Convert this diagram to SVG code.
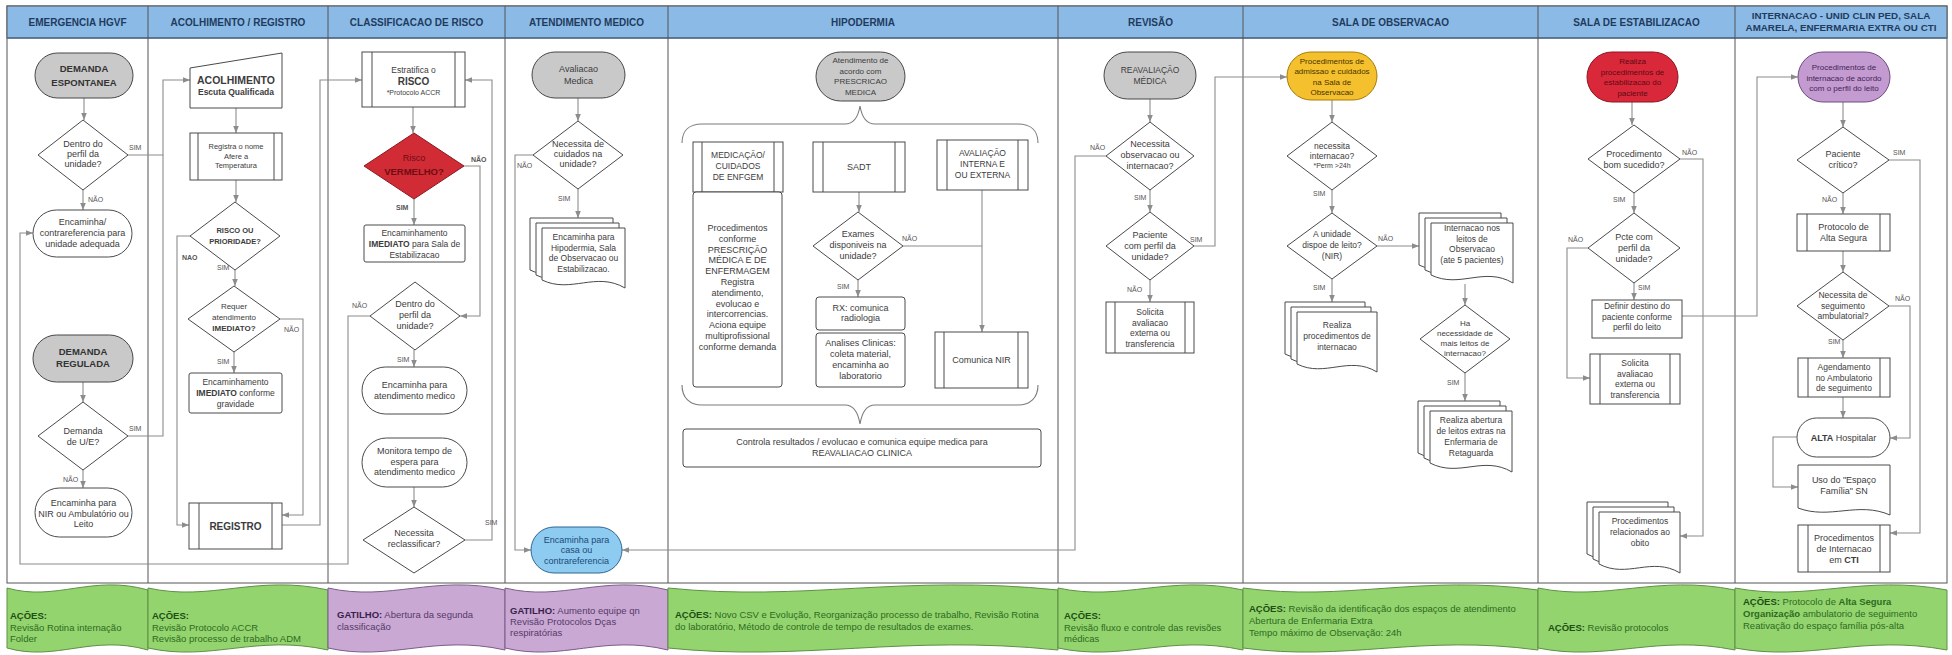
<svg xmlns="http://www.w3.org/2000/svg" width="1952" height="655" viewBox="0 0 1952 655">
<defs>
<style>
text{font-family:"Liberation Sans",Arial,Helvetica,sans-serif}
.t{font-size:9px;fill:#3c3c3c;text-anchor:middle}
.ts{font-size:8px;fill:#3c3c3c;text-anchor:middle}
.tx{font-size:7.5px;fill:#3c3c3c;text-anchor:middle}
.b{font-weight:bold}
.ht{font-size:10px;font-weight:bold;fill:#1f3b5e;text-anchor:middle}
.lbl{font-size:7px;fill:#555}
.box{fill:#fff;stroke:#4a4a4a;stroke-width:1}
.gray{fill:#c9c9c9;stroke:#474747;stroke-width:1}
.bar{stroke:#4a4a4a;stroke-width:1}
.cn{fill:none;stroke:#8c8c8c;stroke-width:1.1;marker-end:url(#ah)}
.cn0{fill:none;stroke:#8c8c8c;stroke-width:1.1}
.brace{fill:none;stroke:#7a7a7a;stroke-width:1.1}
.gb{fill:#93d46e;stroke:#5f8f45;stroke-width:1}
.pb{fill:#c9a8d4;stroke:#7b5d88;stroke-width:1}
.gt{font-size:9.5px;fill:#2f6a1e}
.gtb{font-weight:bold;fill:#1d4e12}
.pt{font-size:9.5px;fill:#563a68}
.ptb{font-weight:bold;fill:#3a1f4d}
.lane{stroke:#555;stroke-width:1}
</style>
<marker id="ah" viewBox="0 0 10 10" refX="10" refY="5" markerWidth="7" markerHeight="7" markerUnits="userSpaceOnUse" orient="auto"><path d="M0,1 L10,5 L0,9 z" fill="#8c8c8c"/></marker>
</defs>
<rect x="0" y="0" width="1952" height="655" fill="#fff"/>

<g id="lanes">
<rect x="7" y="6" width="1940" height="577" fill="#fff" stroke="#555"/>
<rect x="7" y="6" width="1940" height="32" fill="#8bbae6" stroke="#555"/>
<line x1="7" y1="38" x2="1947" y2="38" stroke="#4f6f8f" stroke-width="1.5"/>
<line class="lane" x1="148" y1="6" x2="148" y2="583"/>
<line class="lane" x1="328" y1="6" x2="328" y2="583"/>
<line class="lane" x1="505" y1="6" x2="505" y2="583"/>
<line class="lane" x1="668" y1="6" x2="668" y2="583"/>
<line class="lane" x1="1058" y1="6" x2="1058" y2="583"/>
<line class="lane" x1="1243" y1="6" x2="1243" y2="583"/>
<line class="lane" x1="1538" y1="6" x2="1538" y2="583"/>
<line class="lane" x1="1735" y1="6" x2="1735" y2="583"/>
<text class="ht" x="77.5" y="25.5">EMERGENCIA HGVF</text>
<text class="ht" x="238" y="25.5">ACOLHIMENTO / REGISTRO</text>
<text class="ht" x="416.5" y="25.5">CLASSIFICACAO DE RISCO</text>
<text class="ht" x="586.5" y="25.5">ATENDIMENTO MEDICO</text>
<text class="ht" x="863" y="25.5">HIPODERMIA</text>
<text class="ht" x="1150.5" y="25.5">REVISÃO</text>
<text class="ht" x="1390.5" y="25.5">SALA DE OBSERVACAO</text>
<text class="ht" x="1636.5" y="25.5">SALA DE ESTABILIZACAO</text>
<text class="ht" style="font-size:9.8px"><tspan x="1841" y="19">INTERNACAO - UNID CLIN PED, SALA</tspan><tspan x="1841" y="31">AMARELA, ENFERMARIA EXTRA OU CTI</tspan></text>
</g>

<g id="connectors">
<path class="cn" d="M84,98 V120"/>
<path class="cn" d="M128,155 H163 V80 H190"/>
<path class="cn" d="M83,190 V210"/>
<path class="cn" d="M370,316 H348 V564 H20 V233 H33"/>
<path class="cn" d="M83,382 V402"/>
<path class="cn0" d="M128,436 H163 V155"/>
<path class="cn" d="M83,470 V488"/>
<path class="cn" d="M236,108 V133"/>
<path class="cn" d="M236,180 V202"/>
<path class="cn" d="M190,236 H177 V525 H189"/>
<path class="cn" d="M235,270 V286"/>
<path class="cn" d="M280,319 H303 V515 H282"/>
<path class="cn" d="M234,352 V373"/>
<path class="cn" d="M282,525 H320 V80 H362"/>
<path class="cn" d="M413,107 V133"/>
<path class="cn" d="M464,166 H480 V316 H460"/>
<path class="cn" d="M414,199 V225"/>
<path class="cn" d="M414,350 V367"/>
<path class="cn" d="M414,487 V507"/>
<path class="cn" d="M465,540 H492 V80 H465"/>
<path class="cn" d="M578,98 V121"/>
<path class="cn" d="M533,155 H515 V550 H531"/>
<path class="cn" d="M578,189 V218"/>
<path class="cn" d="M1106,156 H1075 V550 H622"/>
<path class="cn" d="M859,192 V212"/>
<path class="cn0" d="M903,246 H982"/>
<path class="cn" d="M982,190 V332"/>
<path class="cn" d="M858,280 V297"/>
<path class="cn" d="M1150,99 V122"/>
<path class="cn" d="M1150,190 V212"/>
<path class="cn" d="M1194,246 H1215 V77 H1287"/>
<path class="cn" d="M1150,280 V302"/>
<path class="cn" d="M1332,100 V122"/>
<path class="cn" d="M1332,190 V213"/>
<path class="cn" d="M1377,246 H1419"/>
<path class="cn" d="M1332,279 V302"/>
<path class="cn" d="M1465,284 V305"/>
<path class="cn" d="M1465,373 V401"/>
<path class="cn" d="M1632,102 V125"/>
<path class="cn" d="M1680,159 H1703 V536 H1680"/>
<path class="cn" d="M1634,193 V213"/>
<path class="cn" d="M1588,248 H1567 V378 H1590"/>
<path class="cn" d="M1634,283 V300"/>
<path class="cn" d="M1682,316 H1757 V77 H1798"/>
<path class="cn" d="M1843,102 V127"/>
<path class="cn" d="M1889,160 H1920 V533 H1890"/>
<path class="cn" d="M1843,193 V214"/>
<path class="cn" d="M1843,251 V272"/>
<path class="cn" d="M1889,306 H1910 V438 H1890"/>
<path class="cn" d="M1843,340 V358"/>
<path class="cn" d="M1843,397 V418"/>
<path class="cn" d="M1797,437 H1773 V487 H1798"/>
<path class="brace" d="M682,143 C682,130 690,124 702,124 L845,124 C853,124 858,118 860,106 C862,118 867,124 875,124 L1018,124 C1030,124 1038,130 1038,143"/>
<path class="brace" d="M682,385 C682,398 690,405 702,405 L845,405 C853,405 858,412 860,424 C862,412 867,405 875,405 L1018,405 C1030,405 1038,398 1038,385"/>
<text class="lbl" x="129" y="150">SIM</text>
<text class="lbl" x="88" y="202">NÃO</text>
<text class="lbl" x="129" y="431">SIM</text>
<text class="lbl" x="63" y="482">NÃO</text>
<text class="lbl b" x="182" y="260">NAO</text>
<text class="lbl" x="217" y="270">SIM</text>
<text class="lbl" x="284" y="332">NÃO</text>
<text class="lbl" x="217" y="364">SIM</text>
<text class="lbl b" x="471" y="162">NÃO</text>
<text class="lbl b" x="396" y="210">SIM</text>
<text class="lbl" x="352" y="308">NÃO</text>
<text class="lbl" x="397" y="362">SIM</text>
<text class="lbl" x="485" y="525">SIM</text>
<text class="lbl" x="517" y="168">NÃO</text>
<text class="lbl" x="558" y="201">SIM</text>
<text class="lbl" x="902" y="241">NÃO</text>
<text class="lbl" x="837" y="289">SIM</text>
<text class="lbl" x="1090" y="150">NÃO</text>
<text class="lbl" x="1134" y="200">SIM</text>
<text class="lbl" x="1190" y="242">SIM</text>
<text class="lbl" x="1127" y="292">NÃO</text>
<text class="lbl" x="1313" y="196">SIM</text>
<text class="lbl" x="1378" y="241">NÃO</text>
<text class="lbl" x="1313" y="290">SIM</text>
<text class="lbl" x="1447" y="385">SIM</text>
<text class="lbl" x="1682" y="155">NÃO</text>
<text class="lbl" x="1613" y="202">SIM</text>
<text class="lbl" x="1568" y="242">NÃO</text>
<text class="lbl" x="1638" y="290">SIM</text>
<text class="lbl" x="1893" y="155">SIM</text>
<text class="lbl" x="1822" y="202">NÃO</text>
<text class="lbl" x="1895" y="301">NÃO</text>
<text class="lbl" x="1828" y="344">SIM</text>
</g>

<!-- Lane 1 -->
<g id="n_demanda_espontanea"><rect class="gray" x="35" y="53" width="98" height="45" rx="22.5"/><text class="t b" style="font-size:9.5px;fill:#333"><tspan x="84" y="72">DEMANDA</tspan><tspan x="84" y="85.5">ESPONTANEA</tspan></text></g>
<g id="n_dentro_perfil_1"><polygon class="box" points="83,120 128,155 83,190 38,155"/><text class="t"><tspan x="83" y="147">Dentro do</tspan><tspan x="83" y="157">perfil da</tspan><tspan x="83" y="167">unidade?</tspan></text></g>
<g id="n_encaminha_contraref"><rect class="box" x="33" y="210" width="99" height="47" rx="23.5"/><text class="t"><tspan x="82.5" y="225">Encaminha/</tspan><tspan x="82.5" y="236">contrareferencia para</tspan><tspan x="82.5" y="247">unidade adequada</tspan></text></g>
<g id="n_demanda_regulada"><rect class="gray" x="33" y="335" width="100" height="47" rx="23.5"/><text class="t b" style="font-size:9.5px;fill:#333"><tspan x="83" y="354.5">DEMANDA</tspan><tspan x="83" y="367">REGULADA</tspan></text></g>
<g id="n_demanda_ue"><polygon class="box" points="83,402 128,436 83,470 38,436"/><text class="t"><tspan x="83" y="434">Demanda</tspan><tspan x="83" y="445">de U/E?</tspan></text></g>
<g id="n_encaminha_nir"><rect class="box" x="35" y="488" width="97" height="49" rx="24.5"/><text class="t"><tspan x="83.5" y="506">Encaminha para</tspan><tspan x="83.5" y="516.5">NIR ou Ambulatório ou</tspan><tspan x="83.5" y="527">Leito</tspan></text></g>

<!-- Lane 2 -->
<g id="n_acolhimento"><path class="box" d="M190,68 L282,53 L282,108 L190,108 Z"/><text class="t"><tspan x="236" y="83.5" class="b" style="font-size:10.5px">ACOLHIMENTO</tspan><tspan x="236" y="94.5" class="b" style="font-size:8.5px">Escuta Qualificada</tspan></text></g>
<g id="n_registra"><rect class="box" x="190" y="133" width="92" height="47"/><line class="bar" x1="198" y1="133" x2="198" y2="180"/><line class="bar" x1="274" y1="133" x2="274" y2="180"/><text class="tx"><tspan x="236" y="149">Registra o nome</tspan><tspan x="236" y="158.5">Afere a</tspan><tspan x="236" y="168">Temperatura</tspan></text></g>
<g id="n_risco_prioridade"><polygon class="box" points="235,202 280,236 235,270 190,236"/><text class="tx b"><tspan x="235" y="233">RISCO OU</tspan><tspan x="235" y="244">PRIORIDADE?</tspan></text></g>
<g id="n_requer_imediato"><polygon class="box" points="234,286 280,319 234,352 188,319"/><text class="ts"><tspan x="234" y="309">Requer</tspan><tspan x="234" y="319.5">atendimento</tspan><tspan x="234" y="330.5" class="b">IMEDIATO?</tspan></text></g>
<g id="n_enc_imediato"><rect class="box" x="189" y="373" width="93" height="40" rx="2"/><text class="t" style="font-size:8.5px"><tspan x="235.5" y="385">Encaminhamento</tspan><tspan x="235.5" y="396"><tspan class="b">IMEDIATO</tspan> conforme</tspan><tspan x="235.5" y="407">gravidade</tspan></text></g>
<g id="n_registro"><rect class="box" x="189" y="503" width="93" height="46"/><line class="bar" x1="199" y1="503" x2="199" y2="549"/><line class="bar" x1="272" y1="503" x2="272" y2="549"/><text class="t b" x="235.5" y="529.5" style="font-size:10px">REGISTRO</text></g>

<!-- Lane 3 -->
<g id="n_estratifica"><rect class="box" x="362" y="52" width="103" height="55"/><line class="bar" x1="372" y1="52" x2="372" y2="107"/><line class="bar" x1="455" y1="52" x2="455" y2="107"/><text class="t"><tspan x="413.5" y="73" style="font-size:8.5px">Estratifica o</tspan><tspan x="413.5" y="85" class="b" style="font-size:10px">RISCO</tspan><tspan x="413.5" y="94.5" style="font-size:7px">*Protocolo ACCR</tspan></text></g>
<g id="n_risco_vermelho"><polygon points="414,133 464,166 414,199 364,166" fill="#d12b36" stroke="#8a1a20"/><text class="t" style="fill:#6e0d12"><tspan x="414" y="161">Risco</tspan><tspan x="414" y="175" class="b" style="font-size:9.5px">VERMELHO?</tspan></text></g>
<g id="n_enc_estab"><rect class="box" x="364" y="225" width="101" height="37" rx="2"/><text class="t" style="font-size:8.5px"><tspan x="414.5" y="236">Encaminhamento</tspan><tspan x="414.5" y="247"><tspan class="b">IMEDIATO</tspan> para Sala de</tspan><tspan x="414.5" y="258">Estabilizacao</tspan></text></g>
<g id="n_dentro_perfil_2"><polygon class="box" points="415,282 460,316 415,350 370,316"/><text class="t"><tspan x="415" y="307">Dentro do</tspan><tspan x="415" y="318">perfil da</tspan><tspan x="415" y="329">unidade?</tspan></text></g>
<g id="n_enc_atendimento"><rect class="box" x="362" y="367" width="105" height="47" rx="23.5"/><text class="t"><tspan x="414.5" y="388">Encaminha para</tspan><tspan x="414.5" y="399">atendimento medico</tspan></text></g>
<g id="n_monitora"><rect class="box" x="362" y="438" width="105" height="49" rx="24.5"/><text class="t"><tspan x="414.5" y="454">Monitora tempo de</tspan><tspan x="414.5" y="464.5">espera para</tspan><tspan x="414.5" y="475">atendimento medico</tspan></text></g>
<g id="n_reclassificar"><polygon class="box" points="414,507 465,540 414,573 363,540"/><text class="t"><tspan x="414" y="536">Necessita</tspan><tspan x="414" y="547">reclassificar?</tspan></text></g>

<!-- Lane 4 -->
<g id="n_avaliacao_medica"><rect class="gray" x="532" y="52" width="93" height="46" rx="23"/><text class="t"><tspan x="578.5" y="71.5">Avaliacao</tspan><tspan x="578.5" y="83.5">Medica</tspan></text></g>
<g id="n_necessita_cuidados"><polygon class="box" points="578,121 623,155 578,189 533,155"/><text class="t"><tspan x="578" y="147">Necessita de</tspan><tspan x="578" y="157">cuidados na</tspan><tspan x="578" y="167">unidade?</tspan></text></g>
<g id="n_enc_hipodermia"><path class="box" d="M530,218 H613 V278 C584,261 559,284 530,270 Z"/><path class="box" d="M536,223 H619 V283 C590,266 565,289 536,275 Z"/><path class="box" d="M542,228 H625 V288 C596,271 571,294 542,280 Z"/><text class="t" style="font-size:8.5px"><tspan x="583.5" y="240">Encaminha para</tspan><tspan x="583.5" y="250.5">Hipodermia, Sala</tspan><tspan x="583.5" y="261">de Observacao ou</tspan><tspan x="583.5" y="271.5">Estabilizacao.</tspan></text></g>
<g id="n_enc_casa"><rect x="531" y="527" width="91" height="46" rx="23" fill="#8ecbf0" stroke="#2f6790"/><text class="t" style="fill:#1a4a78"><tspan x="576.5" y="543">Encaminha para</tspan><tspan x="576.5" y="553">casa ou</tspan><tspan x="576.5" y="563.5">contrareferencia</tspan></text></g>

<!-- Lane 5 -->
<g id="n_atend_prescricao"><rect class="gray" x="816" y="52" width="89" height="49" rx="24.5"/><text class="ts"><tspan x="860.5" y="63">Atendimento de</tspan><tspan x="860.5" y="73.5">acordo com</tspan><tspan x="860.5" y="84">PRESCRICAO</tspan><tspan x="860.5" y="94.5">MEDICA</tspan></text></g>
<g id="n_medicacao"><rect class="box" x="693" y="142" width="90" height="50"/><line class="bar" x1="702" y1="142" x2="702" y2="192"/><line class="bar" x1="774" y1="142" x2="774" y2="192"/><text class="t" style="font-size:8.5px"><tspan x="738" y="158">MEDICAÇÃO/</tspan><tspan x="738" y="169">CUIDADOS</tspan><tspan x="738" y="179.5">DE ENFGEM</tspan></text></g>
<g id="n_procedimentos_conforme"><rect class="box" x="693" y="192" width="89" height="195" rx="3"/><text class="t"><tspan x="737.5" y="231">Procedimentos</tspan><tspan x="737.5" y="241.8">conforme</tspan><tspan x="737.5" y="252.6">PRESCRIÇÃO</tspan><tspan x="737.5" y="263.4">MÉDICA E DE</tspan><tspan x="737.5" y="274.2">ENFERMAGEM</tspan><tspan x="737.5" y="285">Registra</tspan><tspan x="737.5" y="295.8">atendimento,</tspan><tspan x="737.5" y="306.6">evolucao e</tspan><tspan x="737.5" y="317.4">intercorrencias.</tspan><tspan x="737.5" y="328.2">Aciona equipe</tspan><tspan x="737.5" y="339">multiprofissional</tspan><tspan x="737.5" y="349.8">conforme demanda</tspan></text></g>
<g id="n_sadt"><rect class="box" x="813" y="142" width="92" height="50"/><line class="bar" x1="823" y1="142" x2="823" y2="192"/><line class="bar" x1="895" y1="142" x2="895" y2="192"/><text class="t" x="859" y="170">SADT</text></g>
<g id="n_exames"><polygon class="box" points="858,212 903,246 858,280 813,246"/><text class="t"><tspan x="858" y="237">Exames</tspan><tspan x="858" y="248">disponiveis na</tspan><tspan x="858" y="258.5">unidade?</tspan></text></g>
<g id="n_rx"><rect class="box" x="816" y="297" width="89" height="33" rx="3"/><text class="t"><tspan x="860.5" y="310.5">RX: comunica</tspan><tspan x="860.5" y="321">radiologia</tspan></text></g>
<g id="n_analises"><rect class="box" x="816" y="333" width="89" height="54" rx="3"/><text class="t"><tspan x="860.5" y="346">Analises Clinicas:</tspan><tspan x="860.5" y="357">coleta material,</tspan><tspan x="860.5" y="368">encaminha ao</tspan><tspan x="860.5" y="378.5">laboratorio</tspan></text></g>
<g id="n_avaliacao_interna"><rect class="box" x="937" y="140" width="91" height="50"/><line class="bar" x1="947" y1="140" x2="947" y2="190"/><line class="bar" x1="1018" y1="140" x2="1018" y2="190"/><text class="t" style="font-size:8.5px"><tspan x="982.5" y="156">AVALIAÇÃO</tspan><tspan x="982.5" y="167">INTERNA E</tspan><tspan x="982.5" y="178">OU EXTERNA</tspan></text></g>
<g id="n_comunica_nir"><rect class="box" x="935" y="332" width="93" height="56"/><line class="bar" x1="944" y1="332" x2="944" y2="388"/><line class="bar" x1="1018" y1="332" x2="1018" y2="388"/><text class="t" x="981.5" y="363">Comunica NIR</text></g>
<g id="n_controla"><rect class="box" x="683" y="429" width="358" height="38" rx="3"/><text class="t"><tspan x="862" y="445">Controla resultados / evolucao e comunica equipe medica para</tspan><tspan x="862" y="456">REAVALIACAO CLINICA</tspan></text></g>

<!-- Lane 6 -->
<g id="n_reavaliacao"><rect class="gray" x="1104" y="52" width="92" height="47" rx="23.5"/><text class="t" style="font-size:8.5px"><tspan x="1150" y="73">REAVALIAÇÃO</tspan><tspan x="1150" y="84">MÉDICA</tspan></text></g>
<g id="n_necessita_obs"><polygon class="box" points="1150,122 1194,156 1150,190 1106,156"/><text class="t"><tspan x="1150" y="147">Necessita</tspan><tspan x="1150" y="158">observacao ou</tspan><tspan x="1150" y="168.5">internacao?</tspan></text></g>
<g id="n_paciente_perfil"><polygon class="box" points="1150,212 1194,246 1150,280 1106,246"/><text class="t"><tspan x="1150" y="238">Paciente</tspan><tspan x="1150" y="249">com perfil da</tspan><tspan x="1150" y="259.5">unidade?</tspan></text></g>
<g id="n_solicita_1"><rect class="box" x="1106" y="302" width="88" height="51"/><line class="bar" x1="1115" y1="302" x2="1115" y2="353"/><line class="bar" x1="1185" y1="302" x2="1185" y2="353"/><text class="t" style="font-size:8.5px"><tspan x="1150" y="315">Solicita</tspan><tspan x="1150" y="325.5">avaliacao</tspan><tspan x="1150" y="336">externa ou</tspan><tspan x="1150" y="346.5">transferencia</tspan></text></g>

<!-- Lane 7 -->
<g id="n_proc_admissao"><rect x="1287" y="52" width="90" height="48" rx="24" fill="#f5c02d" stroke="#a67c0c"/><text class="ts" style="fill:#4a3300"><tspan x="1332" y="63.5">Procedimentos de</tspan><tspan x="1332" y="74">admissao e cuidados</tspan><tspan x="1332" y="84.5">na Sala de</tspan><tspan x="1332" y="95">Observacao</tspan></text></g>
<g id="n_necessita_internacao"><polygon class="box" points="1332,122 1377,156 1332,190 1287,156"/><text class="t" style="font-size:8.5px"><tspan x="1332" y="149">necessita</tspan><tspan x="1332" y="158.5">internacao?</tspan><tspan x="1332" y="167.5" style="font-size:7px">*Perm &gt;24h</tspan></text></g>
<g id="n_unidade_leito"><polygon class="box" points="1332,213 1377,246 1332,279 1287,246"/><text class="t" style="font-size:8.5px"><tspan x="1332" y="237">A unidade</tspan><tspan x="1332" y="248">dispoe de leito?</tspan><tspan x="1332" y="259">(NIR)</tspan></text></g>
<g id="n_realiza_proc"><path class="box" d="M1285,302 H1365 V362 C1337,345 1313,368 1285,354 Z"/><path class="box" d="M1291,307 H1371 V367 C1343,350 1319,373 1291,359 Z"/><path class="box" d="M1297,312 H1377 V372 C1349,355 1325,378 1297,364 Z"/><text class="t" style="font-size:8.5px"><tspan x="1337" y="328">Realiza</tspan><tspan x="1337" y="339">procedimentos de</tspan><tspan x="1337" y="350">internacao</tspan></text></g>
<g id="n_internacao_leitos"><path class="box" d="M1419,213 H1501 V273 C1472,256 1448,279 1419,265 Z"/><path class="box" d="M1425,218 H1507 V278 C1478,261 1454,284 1425,270 Z"/><path class="box" d="M1431,223 H1513 V283 C1484,266 1460,289 1431,275 Z"/><text class="t" style="font-size:8.5px"><tspan x="1472" y="231">Internacao nos</tspan><tspan x="1472" y="241.5">leitos de</tspan><tspan x="1472" y="252">Observacao</tspan><tspan x="1472" y="262.5">(ate 5 pacientes)</tspan></text></g>
<g id="n_mais_leitos"><polygon class="box" points="1465,305 1510,339 1465,373 1420,339"/><text class="ts"><tspan x="1465" y="326">Ha</tspan><tspan x="1465" y="336">necessidade de</tspan><tspan x="1465" y="346">mais leitos de</tspan><tspan x="1465" y="356">internacao?</tspan></text></g>
<g id="n_abertura_leitos"><path class="box" d="M1418,401 H1500 V462 C1471,445 1447,468 1418,453 Z"/><path class="box" d="M1424,406 H1506 V467 C1477,450 1453,473 1424,458 Z"/><path class="box" d="M1430,411 H1512 V472 C1483,455 1459,478 1430,463 Z"/><text class="t" style="font-size:8.5px"><tspan x="1471" y="423">Realiza abertura</tspan><tspan x="1471" y="434">de leitos extras na</tspan><tspan x="1471" y="445">Enfermaria de</tspan><tspan x="1471" y="456">Retaguarda</tspan></text></g>

<!-- Lane 8 -->
<g id="n_proc_estab"><rect x="1587" y="52" width="91" height="50" rx="25" fill="#d9283a" stroke="#8c1420"/><text class="ts" style="fill:#5e0a12"><tspan x="1632.5" y="64">Realiza</tspan><tspan x="1632.5" y="74.5">procedimentos de</tspan><tspan x="1632.5" y="85">estabilizacao do</tspan><tspan x="1632.5" y="95.5">paciente</tspan></text></g>
<g id="n_bom_sucedido"><polygon class="box" points="1634,125 1680,159 1634,193 1588,159"/><text class="t"><tspan x="1634" y="157">Procedimento</tspan><tspan x="1634" y="168">bom sucedido?</tspan></text></g>
<g id="n_pcte_perfil"><polygon class="box" points="1634,213 1680,248 1634,283 1588,248"/><text class="t"><tspan x="1634" y="240">Pcte com</tspan><tspan x="1634" y="251">perfil da</tspan><tspan x="1634" y="262">unidade?</tspan></text></g>
<g id="n_definir_destino"><rect class="box" x="1592" y="300" width="90" height="38"/><text class="t" style="font-size:8.5px"><tspan x="1637" y="309">Definir destino do</tspan><tspan x="1637" y="319.5">paciente conforme</tspan><tspan x="1637" y="330">perfil do leito</tspan></text></g>
<g id="n_solicita_2"><rect class="box" x="1590" y="354" width="90" height="50"/><line class="bar" x1="1600" y1="354" x2="1600" y2="404"/><line class="bar" x1="1670" y1="354" x2="1670" y2="404"/><text class="t" style="font-size:8.5px"><tspan x="1635" y="366">Solicita</tspan><tspan x="1635" y="376.5">avaliacao</tspan><tspan x="1635" y="387">externa ou</tspan><tspan x="1635" y="397.5">transferencia</tspan></text></g>
<g id="n_obito"><path class="box" d="M1587,502 H1668 V563 C1640,546 1615,569 1587,554 Z"/><path class="box" d="M1593,507 H1674 V568 C1646,551 1621,574 1593,559 Z"/><path class="box" d="M1599,512 H1680 V573 C1652,556 1627,579 1599,564 Z"/><text class="t" style="font-size:8.5px"><tspan x="1640" y="524">Procedimentos</tspan><tspan x="1640" y="535">relacionados ao</tspan><tspan x="1640" y="546">obito</tspan></text></g>

<!-- Lane 9 -->
<g id="n_proc_internacao"><rect x="1798" y="52" width="92" height="50" rx="25" fill="#c39bd1" stroke="#6e4d80"/><text class="ts" style="fill:#432556"><tspan x="1844" y="70">Procedimentos de</tspan><tspan x="1844" y="80.5">internacao de acordo</tspan><tspan x="1844" y="91">com o perfil do leito</tspan></text></g>
<g id="n_paciente_critico"><polygon class="box" points="1843,127 1889,160 1843,193 1797,160"/><text class="t"><tspan x="1843" y="157">Paciente</tspan><tspan x="1843" y="168">crítico?</tspan></text></g>
<g id="n_alta_segura"><rect class="box" x="1797" y="214" width="93" height="37"/><line class="bar" x1="1807" y1="214" x2="1807" y2="251"/><line class="bar" x1="1880" y1="214" x2="1880" y2="251"/><text class="t"><tspan x="1843.5" y="229.5">Protocolo de</tspan><tspan x="1843.5" y="240.5">Alta Segura</tspan></text></g>
<g id="n_seguimento"><polygon class="box" points="1843,272 1889,306 1843,340 1797,306"/><text class="t" style="font-size:8.5px"><tspan x="1843" y="298">Necessita de</tspan><tspan x="1843" y="308.5">seguimento</tspan><tspan x="1843" y="319">ambulatorial?</tspan></text></g>
<g id="n_agendamento"><rect class="box" x="1798" y="358" width="92" height="39"/><line class="bar" x1="1808" y1="358" x2="1808" y2="397"/><line class="bar" x1="1880" y1="358" x2="1880" y2="397"/><text class="t" style="font-size:8.5px"><tspan x="1844" y="370">Agendamento</tspan><tspan x="1844" y="380.5">no Ambulatorio</tspan><tspan x="1844" y="391">de seguimento</tspan></text></g>
<g id="n_alta_hospitalar"><rect class="box" x="1797" y="418" width="93" height="39" rx="19.5"/><text class="t" x="1843.5" y="441"><tspan class="b">ALTA</tspan> Hospitalar</text></g>
<g id="n_espaco_familia"><path class="box" d="M1798,465 H1890 V515 C1858,501 1830,520 1798,508 Z"/><text class="t"><tspan x="1844" y="483">Uso do "Espaço</tspan><tspan x="1844" y="494">Família" SN</tspan></text></g>
<g id="n_cti"><rect class="box" x="1798" y="525" width="92" height="47"/><line class="bar" x1="1808" y1="525" x2="1808" y2="572"/><line class="bar" x1="1880" y1="525" x2="1880" y2="572"/><text class="t"><tspan x="1844" y="541">Procedimentos</tspan><tspan x="1844" y="552">de Internacao</tspan><tspan x="1844" y="563">em <tspan class="b">CTI</tspan></tspan></text></g>

<g id="banners">
<path class="gb" d="M7,588 C56,602 92,574 148,590 L148,650 C92,634 56,662 7,648 Z"/>
<path class="gb" d="M148,588 C211,602 256,574 328,590 L328,650 C256,634 211,662 148,648 Z"/>
<path class="pb" d="M328,588 C390,602 434,574 505,590 L505,650 C434,634 390,662 328,648 Z"/>
<path class="pb" d="M505,588 C562,602 603,574 668,590 L668,650 C603,634 562,662 505,648 Z"/>
<path class="gb" d="M668,588 C804,602 902,574 1058,590 L1058,650 C902,634 804,662 668,648 Z"/>
<path class="gb" d="M1058,588 C1123,602 1169,574 1243,590 L1243,650 C1169,634 1123,662 1058,648 Z"/>
<path class="gb" d="M1243,588 C1346,602 1420,574 1538,590 L1538,650 C1420,634 1346,662 1243,648 Z"/>
<path class="gb" d="M1538,588 C1607,602 1656,574 1735,590 L1735,650 C1656,634 1607,662 1538,648 Z"/>
<path class="gb" d="M1735,588 C1809,602 1862,574 1947,590 L1947,650 C1862,634 1809,662 1735,648 Z"/>
<text class="gt"><tspan x="10" y="619" class="gtb">AÇÕES:</tspan><tspan x="10" y="631">Revisão Rotina internação</tspan><tspan x="10" y="642">Folder</tspan></text>
<text class="gt"><tspan x="152" y="619" class="gtb">AÇÕES:</tspan><tspan x="152" y="631">Revisão Protocolo ACCR</tspan><tspan x="152" y="642">Revisão processo de trabalho ADM</tspan></text>
<text class="pt"><tspan x="337" y="618"><tspan class="ptb">GATILHO:</tspan> Abertura da segunda</tspan><tspan x="337" y="630">classificação</tspan></text>
<text class="pt"><tspan x="510" y="614"><tspan class="ptb">GATILHO:</tspan> Aumento equipe qn</tspan><tspan x="510" y="625">Revisão Protocolos Dças</tspan><tspan x="510" y="636">respiratórias</tspan></text>
<text class="gt"><tspan x="675" y="618"><tspan class="gtb">AÇÕES:</tspan> Novo CSV e Evolução, Reorganização processo de trabalho, Revisão Rotina</tspan><tspan x="675" y="630">do laboratório, Método de controle de tempo de resultados de exames.</tspan></text>
<text class="gt"><tspan x="1064" y="619" class="gtb">AÇÕES:</tspan><tspan x="1064" y="631">Revisão fluxo e controle das revisões</tspan><tspan x="1064" y="642">médicas</tspan></text>
<text class="gt"><tspan x="1249" y="612"><tspan class="gtb">AÇÕES:</tspan> Revisão da identificação dos espaços de atendimento</tspan><tspan x="1249" y="624">Abertura de Enfermaria Extra</tspan><tspan x="1249" y="636">Tempo máximo de Observação: 24h</tspan></text>
<text class="gt"><tspan x="1548" y="631"><tspan class="gtb">AÇÕES:</tspan> Revisão protocolos</tspan></text>
<text class="gt"><tspan x="1743" y="605"><tspan class="gtb">AÇÕES:</tspan> Protocolo de <tspan class="b">Alta Segura</tspan></tspan><tspan x="1743" y="617"><tspan class="b">Organização</tspan> ambulatorio de seguimento</tspan><tspan x="1743" y="629">Reativação do espaço família pós-alta</tspan></text>
</g>
</svg>
